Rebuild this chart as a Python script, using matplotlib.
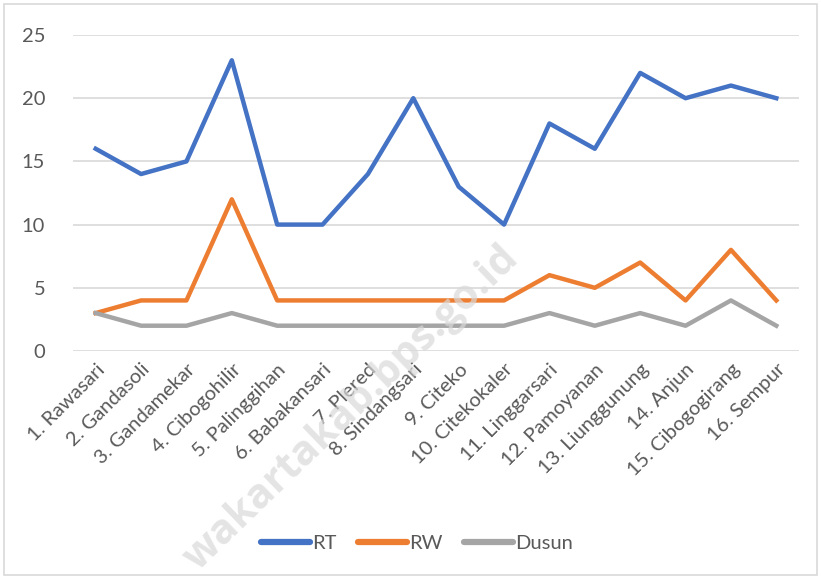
import matplotlib
matplotlib.use("Agg")
import matplotlib.pyplot as plt
from matplotlib.patches import Rectangle

categories = ["1. Rawasari", "2. Gandasoli", "3. Gandamekar", "4. Cibogohilir",
              "5. Palinggihan", "6. Babakansari", "7. Plered", "8. Sindangsari",
              "9. Citeko", "10. Citekokaler", "11. Linggarsari", "12. Pamoyanan",
              "13. Liunggunung", "14. Anjun", "15. Cibogogirang", "16. Sempur"]
rt = [16, 14, 15, 23, 10, 10, 14, 20, 13, 10, 18, 16, 22, 20, 21, 20]
rw = [3, 4, 4, 12, 4, 4, 4, 4, 4, 4, 6, 5, 7, 4, 8, 4]
dusun = [3, 2, 2, 3, 2, 2, 2, 2, 2, 2, 3, 2, 3, 2, 4, 2]
yticks = [0, 5, 10, 15, 20, 25]

plt.rcParams['font.family'] = ['Lato', 'DejaVu Sans']

W, H = 821, 579
fig = plt.figure(figsize=(W/100, H/100), dpi=100)
fig.patch.set_facecolor('white')
fig.patches.append(Rectangle((4/W, 4/H), (W-8)/W, (H-8)/H, transform=fig.transFigure,
                             fill=False, edgecolor='#d9d9d9', linewidth=1.2))

ax = fig.add_axes([73/W, 1-351/H, (799-73)/W, (351-35)/H])
x = list(range(len(categories)))
ax.plot(x, rt, color='#4472C4', lw=3.2, label='RT', solid_joinstyle='round', zorder=3)
ax.plot(x, rw, color='#ED7D31', lw=3.2, label='RW', solid_joinstyle='round', zorder=3)
ax.plot(x, dusun, color='#A5A5A5', lw=3.2, label='Dusun', solid_joinstyle='round', zorder=3)

ax.set_xlim(-0.5, len(categories)-0.5)
ax.set_ylim(0, 25)
ax.set_yticks(yticks)
ax.grid(axis='y', color='#d9d9d9', lw=1.2)
ax.set_axisbelow(True)
for s in ax.spines.values():
    s.set_visible(False)
ax.tick_params(axis='both', length=0, labelsize=14.5, colors='#595959')
ax.tick_params(axis='y', pad=20)
ax.set_xticks(x)
ax.set_xticklabels(categories, rotation=45, ha='right', rotation_mode='anchor')
ax.tick_params(axis='x', pad=7)

leg = fig.legend(loc='center', bbox_to_anchor=(417/W, 1-543/H), ncol=3, frameon=False,
                 fontsize=14.5, handlelength=2.4, columnspacing=1.1, handletextpad=0.1)
for t in leg.get_texts():
    t.set_color('#595959')
for l in leg.get_lines():
    l.set_linewidth(4.5)
    l.set_solid_capstyle('round')

fig.text(352/W, 1-408/H, "wakartakab.bps.go.id", rotation=44, fontsize=30,
         family=['Open Sans', 'DejaVu Sans'],
         fontweight='bold', color='#d9d9d9', alpha=0.7, ha='center', va='center', zorder=5)

fig.savefig('out.png', dpi=100)
